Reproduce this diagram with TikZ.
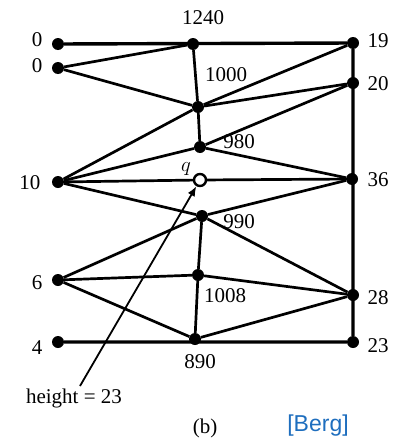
\documentclass[tikz,border=0pt]{standalone}
\usepackage{fontspec}
\setmainfont{Liberation Serif}
\setsansfont{Liberation Sans}
\usetikzlibrary{positioning, arrows.meta}
\definecolor{BergBlue}{RGB}{30, 110, 190}

\begin{document}
\begin{tikzpicture}[x=1pt, y=-1pt,
    dot/.style={circle, fill=black, inner sep=0pt, minimum size=12pt},
    query/.style={circle, draw=black, line width=2.4pt, fill=white, inner sep=0pt, minimum size=12pt},
    edge/.style={black, line width=2.7pt},
    frame/.style={black, line width=3.4pt},
    val/.style={font=\fontsize{21}{23}\selectfont, inner sep=1pt}]
    \useasboundingbox (0,0) rectangle (394,442);
    % vertices of the subdivision
    \foreach \n/\x/\y in {la/58/44, lb/58/68, lc/58/182, ld/58/280, le/58/342,
                          ra/353/43, rb/353/83, rc/352/179, rd/353/295, re/353/342,
                          ma/193/44, mb/198/107, mc/200/147, md/202/216, me/198/275, mf/195/339} {
        \node[dot] (\n) at (\x,\y) {};
    }
    \node[query] (q) at (200,180) {};
    % outer box
    \draw[frame] (la) -- (ra) -- (re) -- (le) -- cycle;
    % inner edges
    \foreach \a/\b in {ma/mb, mb/mc, md/me, me/mf,
                       lb/ma, lb/mb, mb/ra, mb/rb, lc/mb, lc/mc, mc/rb, mc/rc,
                       lc/q, q/rc, lc/md, md/rc, md/rd, ld/md, ld/me, me/rd,
                       ld/mf, mf/rd} {
        \draw[edge] (\a) -- (\b);
    }
    % heights
    \node[val] (t1) at (37,40) {0};
    \node[val] (t2) at (37,66) {0};
    \node[val] (t3) at (30,183) {10};
    \node[val] (t4) at (37,283) {6};
    \node[val] (t5) at (37,348) {4};
    \node[val] (t6) at (203,18) {1240};
    \node[val] (t7) at (226,75) {1000};
    \node[val] (t8) at (239,142) {980};
    \node[val] (t9) at (186,169) {$q$};
    \node[val] (t10) at (239,222) {990};
    \node[val] (t11) at (225,296) {1008};
    \node[val] (t12) at (200,362) {890};
    \node[val] (t13) at (378,41) {19};
    \node[val] (t14) at (378,84) {20};
    \node[val] (t15) at (378,180) {36};
    \node[val] (t16) at (378,298) {28};
    \node[val] (t17) at (378,346) {23};
    % query label and arrow
    \node[val] (h) at (74,398) {height = 23};
    \draw[black, line width=1.8pt, -{Latex[length=10pt, width=8pt]}] (80,386) -- (q);
    \node[val] (cap) at (205,428) {(b)};
    \node[font=\sffamily\fontsize{23}{25}\selectfont, text=BergBlue] (src) at (318,426) {[Berg]};
\end{tikzpicture}
\end{document}
